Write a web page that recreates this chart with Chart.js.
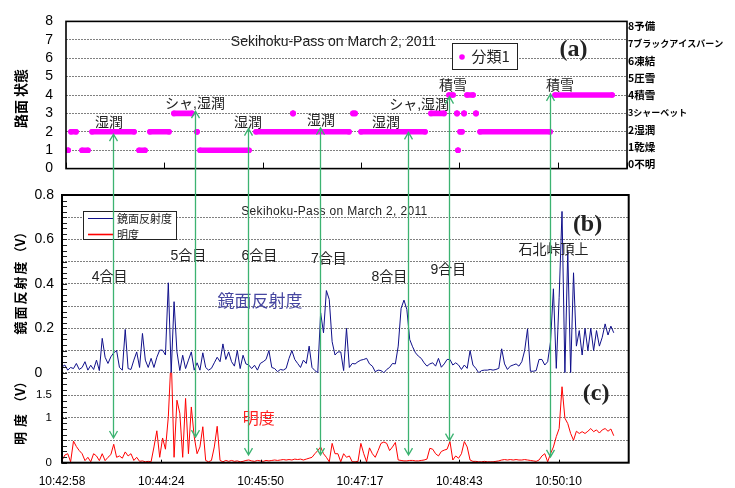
<!DOCTYPE html>
<html>
<head>
<meta charset="utf-8">
<script src="https://cdn.jsdelivr.net/npm/chart.js@4.4.0/dist/chart.umd.min.js"></script>
<style>
  body { margin: 0; background: #fff; }
  #wrap { position: relative; width: 735px; height: 488px; }
  canvas { position: absolute; left: 0; top: 0; }
</style>
</head>
<body>
<div id="wrap">
  <canvas id="roadChart" width="735" height="190"></canvas>
  <canvas id="sensorChart" width="735" height="488"></canvas>
</div>
<script>
// time axis, seconds after 10:42:58
const timeLabels = ['10:42:58', '10:44:24', '10:45:50', '10:47:17', '10:48:43', '10:50:10'];
const tickStep = 86.4;
const timeMax = 493;

// (a) road surface class, runs of equal class (seconds)
const stateFrom  = [1.8, 4.4, 14.1, 22.9, 64.2, 73.8, 94.9, 115.1, 117.8, 167.0, 199.5, 252.2, 259.3, 320.8, 336.6, 343.6, 344.5, 346.3, 349.8, 352.4, 360.3, 363.9, 429.8];
const stateTo    = [1.8, 8.8, 19.3, 59.8, 69.4, 90.5, 110.7, 115.1, 160.8, 248.7, 199.5, 254.0, 315.5, 332.2, 340.1, 343.6, 344.5, 348.0, 349.8, 357.7, 360.3, 425.4, 479.9];
const stateLevel = [1, 2, 1, 2, 1, 2, 3, 2, 1, 2, 3, 3, 2, 3, 4, 3, 1, 2, 3, 4, 3, 2, 4];
const stateNames = ['0不明', '1乾燥', '2湿潤', '3シャーベット', '4積雪', '5圧雪', '6凍結', '7ブラックアイスバーン', '8予備'];
const roadTickLabels = ['0', '1', '2', '3', '4', '5', '6', '7', '8'];

// (b) mirror reflectance and (c) brightness
const seconds = [
  0, 2.5, 5, 7.5, 10, 12.5, 15, 17.5, 20, 22.5,
  25, 27.5, 30, 32.5, 35, 37.5, 40, 42.5, 45, 47.5,
  50, 52.5, 55, 57.5, 60, 62.5, 65, 67.5, 70, 72.5,
  75, 77.5, 80, 82.5, 85, 87.5, 90, 92.5, 95, 97.5,
  100, 102.5, 105, 107.5, 110, 112.5, 115, 117.5, 120, 122.5,
  125, 127.5, 130, 132.5, 135, 137.5, 140, 142.5, 145, 147.5,
  150, 152.5, 155, 157.5, 160, 162.5, 165, 167.5, 170, 172.5,
  175, 177.5, 180, 182.5, 185, 187.5, 190, 192.5, 195, 197.5,
  200, 202.5, 205, 207.5, 210, 212.5, 215, 217.5, 220, 222.5,
  225, 227.5, 230, 232.5, 235, 237.5, 240, 242.5, 245, 247.5,
  250, 252.5, 255, 257.5, 260, 262.5, 265, 267.5, 270, 272.5,
  275, 277.5, 280, 282.5, 285, 287.5, 290, 292.5, 295, 297.5,
  300, 302.5, 305, 307.5, 310, 312.5, 315, 317.5, 320, 322.5,
  325, 327.5, 330, 332.5, 335, 337.5, 340, 342.5, 345, 347.5,
  350, 352.5, 355, 357.5, 360, 362.5, 365, 367.5, 370, 372.5,
  375, 377.5, 380, 382.5, 385, 387.5, 390, 392.5, 395, 397.5,
  400, 402.5, 405, 407.5, 410, 412.5, 415, 417.5, 420, 422.5,
  425, 427.5, 430, 432.5, 435, 437.5, 440, 442.5, 445, 447.5,
  450, 452.5, 455, 457.5, 460, 462.5, 465, 467.5, 470, 472.5,
  475, 477.5, 480
];
const reflectance = [
  0.027, 0.035, 0.012, 0.024, 0.019, 0.042, 0.015, 0.024, 0.05, 0.012,
  0.034, 0.015, 0.057, 0.01, 0.155, 0.07, 0.042, 0.072, 0.09, 0.1,
  0.024, 0.012, 0.195, 0.019, 0.015, 0.057, 0.094, 0.024, 0.177, 0.057,
  0.024, 0.065, 0.024, 0.07, 0.102, 0.102, 0.08, 0.405, 0.0, 0.32,
  0.094, 0.01, 0.079, 0.019, 0.057, 0.094, 0.012, 0.045, 0.012, 0.09,
  0.024, 0.012, 0.02, 0.045, 0.07, 0.05, 0.13, 0.06, 0.094, 0.05,
  0.03, 0.1, 0.019, 0.079, 0.04, 0.035, 0.019, 0.034, 0.012, 0.042,
  0.05, 0.06, 0.1, 0.024, 0.019, 0.005, 0.015, 0.012, 0.02, 0.065,
  0.1, 0.06, 0.042, 0.024, 0.057, 0.042, 0.12, 0.024, 0.01, 0.0,
  0.27, 0.18, 0.37, 0.33, 0.14, 0.08, 0.094, 0.094, 0.01, 0.2,
  0.024, 0.042, 0.04, 0.05, 0.057, 0.06, 0.065, 0.04, 0.03, 0.005,
  0.012, 0.01, 0.0, 0.015, 0.024, 0.042, 0.04, 0.12, 0.29, 0.327,
  0.285, 0.15, 0.117, 0.09, 0.075, 0.065, 0.045, 0.03, 0.04, 0.045,
  0.03, 0.065, 0.025, 0.04, 0.06, 0.06, 0.035, 0.045, 0.035, 0.015,
  0.035, 0.02, 0.1, 0.035, 0.02, 0.0, 0.01, 0.012, 0.012, 0.015,
  0.012, 0.015, 0.02, 0.108, 0.04, 0.015, 0.03, 0.035, 0.04, 0.03,
  0.05, 0.1, 0.198, 0.007, 0.007, 0.01, 0.06, 0.06, 0.035, 0.05,
  0.14, 0.378, 0.02, 0.34, 0.726, 0.0, 0.55, 0.0, 0.45, 0.12,
  0.19, 0.08, 0.2, 0.1, 0.2, 0.1, 0.19, 0.12, 0.16, 0.22,
  0.17, 0.21, 0.18
];
const brightness = [
  0.05, 0.17, 0.2, 0.02, 0.48, 0.36, 0.27, 0.2, 0.046, 0.12,
  0.02, 0.2, 0.15, 0.046, 0.2, 0.046, 0.12, 0.18, 0.41, 0.12,
  0.15, 0.1, 0.24, 0.15, 0.2, 0.05, 0.12, 0.03, 0.04, 0.02,
  0.03, 0.02, 0.35, 0.71, 0.12, 0.55, 0.3, 1.02, 2.39, 0.12,
  1.39, 1.1, 0.12, 1.43, 0.2, 1.24, 0.58, 0.2, 0.35, 0.8,
  0.05, 0.02, 0.05, 0.35, 0.81, 0.05, 0.02, 0.05, 0.03, 0.05,
  0.03, 0.04, 0.02, 0.03, 0.05, 0.06, 0.04, 0.03, 0.05, 0.04,
  0.03, 0.05, 0.04, 0.05, 0.06, 0.05, 0.06, 0.07, 0.06, 0.07,
  0.06, 0.08, 0.07, 0.08, 0.06, 0.08, 0.1, 0.12, 0.2, 0.27,
  0.35, 0.2, 0.12, 0.02, 0.43, 0.2, 0.2, 0.02, 0.2, 0.12,
  0.15, 0.02, 0.02, 0.03, 0.43, 0.2, 0.02, 0.33, 0.2, 0.12,
  0.27, 0.43, 0.46, 0.43, 0.27, 0.35, 0.45, 0.06, 0.05, 0.04,
  0.04, 0.05, 0.05, 0.04, 0.04, 0.05, 0.06, 0.08, 0.32, 0.3,
  0.2, 0.15, 0.25, 0.28, 0.3, 0.47, 0.06, 0.15, 0.1, 0.2,
  0.47, 0.35, 0.06, 0.03, 0.03, 0.02, 0.02, 0.03, 0.02, 0.02,
  0.02, 0.03, 0.04, 0.06, 0.07, 0.06, 0.07, 0.06, 0.07, 0.06,
  0.06, 0.07, 0.06, 0.05, 0.04, 0.03, 0.06, 0.15, 0.2, 0.02,
  0.2, 0.35, 0.58, 0.76, 1.69, 0.99, 0.87, 0.65, 0.5, 0.7,
  0.65, 0.69, 0.65, 0.7, 0.76, 0.69, 0.73, 0.66, 0.73, 0.76,
  0.7, 0.75, 0.6
];
// labels at every 0.2 V (b) and every 0.5 V (c)
const reflTickLabels = ['0   ', '0.2', '0.4', '0.6', '0.8'];
const brightTickLabels = ['0', '', '1', '1.5', ''];

// checkpoints along the road (seconds)
const stations = ['4合目', '5合目', '6合目', '7合目', '8合目', '9合目', '石北峠頂上'];
const arrowTime = [44.2, 116.1, 162.1, 224.2, 300.8, 336.9, 424.2];

// annotation anchors, in axis units
const roadNotes = [
  ['湿潤', 37.8, 2.47], ['シャ,湿潤', 113.4, 3.51], ['湿潤', 160.0, 2.47], ['湿潤', 224.1, 2.57],
  ['湿潤', 281.2, 2.47], ['シャ,湿潤', 310.3, 3.46], ['積雪', 340.1, 4.46], ['積雪', 434.2, 4.46]
];
const stationAt = [[41.5, 0.431], [109.9, 0.526], [171.7, 0.524], [232.1, 0.511], [284.8, 0.431], [336.1, 0.462], [427.5, 0.551]];
const arrowTop = [1.87, 3.12, 2.17, 2.22, 1.97, 3.91, 4.06];
const arrowBottom = [0.55, 0.57, 0.17, 0.17, 0.17, 0.49, 0.13];

const sans = "'Liberation Sans', 'Noto Sans CJK JP', sans-serif";
const jp = "'Noto Sans CJK JP', sans-serif";
Chart.defaults.font.family = sans;
Chart.defaults.color = '#000';

function label(ctx, text, x, y, font, color, align, spacing) {
  ctx.save();
  ctx.font = font;
  ctx.fillStyle = color;
  ctx.textAlign = align || 'center';
  ctx.textBaseline = 'middle';
  if (spacing) ctx.letterSpacing = spacing + 'px';
  ctx.fillText(text, x, y);
  ctx.restore();
}

// rotated axis title, read bottom to top; parts = [[text, letterSpacing], ...]
function vertical(ctx, parts, cx, cy, font, color) {
  ctx.save();
  ctx.translate(cx, cy);
  ctx.rotate(-Math.PI / 2);
  ctx.font = font;
  ctx.fillStyle = color;
  ctx.textBaseline = 'middle';
  ctx.textAlign = 'left';
  const widths = parts.map(p => { ctx.letterSpacing = p[1] + 'px'; return ctx.measureText(p[0]).width; });
  let x = -widths.reduce((a, b) => a + b, 0) / 2;
  parts.forEach((p, i) => {
    ctx.letterSpacing = p[1] + 'px';
    ctx.fillText(p[0], x, 0);
    x += widths[i];
  });
  ctx.restore();
}

function drawFrame(chart, width) {
  const a = chart.chartArea, ctx = chart.ctx;
  ctx.save();
  ctx.strokeStyle = '#000';
  ctx.lineWidth = width;
  ctx.strokeRect(a.left, a.top, a.right - a.left, a.bottom - a.top);
  ctx.restore();
}

function drawInnerTicks(chart, len) {
  const a = chart.chartArea, ctx = chart.ctx, xs = chart.scales.x;
  ctx.save();
  ctx.strokeStyle = '#000';
  ctx.lineWidth = 1;
  xs.ticks.forEach(t => {
    const px = Math.round(xs.getPixelForValue(t.value)) + 0.5;
    ctx.beginPath();
    ctx.moveTo(px, a.bottom);
    ctx.lineTo(px, a.bottom - len);
    ctx.stroke();
  });
  ctx.restore();
}

// short marks inside the left edge for every tick of a y scale
function drawLeftTicks(chart, scale, len) {
  const a = chart.chartArea, ctx = chart.ctx;
  ctx.save();
  ctx.strokeStyle = '#222';
  ctx.lineWidth = 1;
  scale.ticks.forEach(t => {
    const py = Math.round(scale.getPixelForValue(t.value)) + 0.5;
    ctx.beginPath();
    ctx.moveTo(a.left, py);
    ctx.lineTo(a.left + len, py);
    ctx.stroke();
  });
  ctx.restore();
}

const stateData = [];
stateLevel.forEach((lv, i) => {
  stateData.push({x: stateFrom[i], y: lv}, {x: stateTo[i], y: lv}, {x: stateTo[i], y: null});
});

const roadDecor = {
  id: 'roadDecor',
  afterDraw(chart) {
    const ctx = chart.ctx, xs = chart.scales.x, ys = chart.scales.y;
    drawFrame(chart, 1.6);
    drawInnerTicks(chart, 6);
    label(ctx, 'Sekihoku-Pass on March 2, 2011', xs.getPixelForValue(235), ys.getPixelForValue(6.88), '14px ' + sans, '#222');
    label(ctx, '(a)', xs.getPixelForValue(446), ys.getPixelForValue(6.46), 'bold 24px "Liberation Serif", serif', '#222');
    roadNotes.forEach(n => label(ctx, n[0], xs.getPixelForValue(n[1]), ys.getPixelForValue(n[2]), '14px ' + sans, '#222'));
    // legend box
    const ds = chart.data.datasets[0];
    ctx.save();
    ctx.fillStyle = '#fff';
    ctx.fillRect(452, 43, 65, 26);
    ctx.strokeStyle = '#222';
    ctx.lineWidth = 1;
    ctx.strokeRect(452.5, 43.5, 65, 26);
    ctx.fillStyle = ds.backgroundColor;
    ctx.beginPath();
    ctx.arc(462, 57, 2.8, 0, Math.PI * 2);
    ctx.fill();
    ctx.restore();
    label(ctx, ds.label, 471.5, 56.5, '15px ' + jp, '#222', 'left');
    vertical(ctx, [['路面 状態', 0]], 20.5, 98.5, 'bold 14px ' + jp, '#000');
  }
};

const roadChart = new Chart(document.getElementById('roadChart'), {
  type: 'line',
  data: {
    datasets: [{
      label: '分類1',
      data: stateData,
      borderColor: '#ff00ff',
      backgroundColor: '#ff00ff',
      borderWidth: 5.6,
      borderCapStyle: 'round',
      pointRadius: 2.8,
      pointBorderWidth: 0,
      pointHoverRadius: 0
    }]
  },
  options: {
    responsive: false,
    animation: false,
    devicePixelRatio: 1,
    events: [],
    layout: { padding: { top: 14, left: 0, right: 0, bottom: 0 } },
    plugins: { legend: { display: false }, tooltip: { enabled: false } },
    scales: {
      x: {
        type: 'linear', min: 0, max: timeMax, bounds: 'data',
        grid: { display: false, drawTicks: false },
        border: { display: false },
        ticks: { display: false, stepSize: tickStep, includeBounds: false },
        afterFit: s => { s.height = 15.5; }
      },
      y: {
        position: 'left', min: 0, max: 8,
        grid: { color: '#808080', drawTicks: false },
        border: { display: false, dash: [2, 1] },
        ticks: { stepSize: 1, autoSkip: false, padding: 13, font: { size: 14 }, color: '#000', callback: (v, i) => roadTickLabels[i] },
        afterFit: s => { s.width = 66; }
      },
      y2: {
        position: 'right', min: -0.24, max: 8.27,
        grid: { display: false, drawTicks: false },
        border: { display: false },
        ticks: {
          stepSize: 1, includeBounds: false, autoSkip: false, padding: 1, color: '#000',
          font: c => ({ size: (c.index === 3 || c.index === 7) ? 9 : 10.5, weight: 'bold', family: jp }),
          callback: v => stateNames[Math.round(v)]
        },
        afterFit: s => { s.width = 108; }
      }
    }
  },
  plugins: [roadDecor]
});

const sensorDecor = {
  id: 'sensorDecor',
  afterDraw(chart) {
    const ctx = chart.ctx, xs = chart.scales.x, yb = chart.scales.yb, yc = chart.scales.yc;
    drawLeftTicks(chart, yb, 5);
    drawLeftTicks(chart, yc, 5);
    drawFrame(chart, 2);
    drawInnerTicks(chart, 3);
    label(ctx, 'Sekihoku-Pass on March 2, 2011', xs.getPixelForValue(237), yb.getPixelForValue(0.727), '12px ' + sans, '#222', 'center', 0.35);
    label(ctx, '(b)', xs.getPixelForValue(457.2), yb.getPixelForValue(0.664), 'bold 24px "Liberation Serif", serif', '#222');
    label(ctx, '(c)', xs.getPixelForValue(464.6), yc.getPixelForValue(1.53), 'bold 24px "Liberation Serif", serif', '#222');
    stations.forEach((s, i) => label(ctx, s, xs.getPixelForValue(stationAt[i][0]), yb.getPixelForValue(stationAt[i][1]), '14px ' + sans, '#222'));
    label(ctx, '鏡面反射度', xs.getPixelForValue(172.3), yb.getPixelForValue(0.327), '17px ' + jp, '#4646a0');
    label(ctx, '明度', xs.getPixelForValue(171.2), yc.getPixelForValue(0.99), '16px ' + jp, '#ff2020');

    // legend box
    const dss = chart.data.datasets;
    ctx.save();
    ctx.fillStyle = '#fff';
    ctx.fillRect(83, 211, 93, 28);
    ctx.strokeStyle = '#222';
    ctx.lineWidth = 1;
    ctx.strokeRect(83.5, 211.5, 93, 28);
    dss.forEach((d, i) => {
      const ly = 218.5 + i * 16;
      ctx.strokeStyle = d.borderColor;
      ctx.lineWidth = i === 0 ? 1 : 1.6;
      ctx.beginPath();
      ctx.moveTo(88, ly);
      ctx.lineTo(113, ly);
      ctx.stroke();
    });
    ctx.restore();
    dss.forEach((d, i) => label(ctx, d.label, 117, 218.5 + i * 16, '11px ' + jp, '#222', 'left'));

    vertical(ctx, [['鏡面反射度', 2], ['（V）', 0]], 20.5, 280, 'bold 13px ' + jp, '#000');
    vertical(ctx, [['明度', 5], ['（V）', 0]], 20.5, 410, 'bold 13px ' + jp, '#000');

    // green arrows from the road state down to the brightness trace
    const ya = roadChart.scales.y;
    ctx.save();
    ctx.strokeStyle = '#3cb371';
    ctx.lineWidth = 1.3;
    arrowTime.forEach((t, i) => {
      const px = Math.round(xs.getPixelForValue(t)) + 0.5;
      const top = ya.getPixelForValue(arrowTop[i]);
      const bot = yc.getPixelForValue(arrowBottom[i]);
      ctx.beginPath();
      ctx.moveTo(px, top);
      ctx.lineTo(px, bot);
      ctx.moveTo(px - 4, top + 7);
      ctx.lineTo(px, top);
      ctx.lineTo(px + 4, top + 7);
      ctx.moveTo(px - 4, bot - 7);
      ctx.lineTo(px, bot);
      ctx.lineTo(px + 4, bot - 7);
      ctx.stroke();
    });
    ctx.restore();
  }
};

const sensorChart = new Chart(document.getElementById('sensorChart'), {
  type: 'line',
  data: {
    labels: seconds,
    datasets: [
      { label: '鏡面反射度', data: reflectance, yAxisID: 'yb', borderColor: '#10108a', borderWidth: 1, pointRadius: 0, order: 1 },
      { label: '明度', data: brightness, yAxisID: 'yc', borderColor: '#ff0000', borderWidth: 1, pointRadius: 0, order: 0 }
    ]
  },
  options: {
    responsive: false,
    animation: false,
    devicePixelRatio: 1,
    events: [],
    layout: { padding: { top: 195, left: 0, right: 106.3, bottom: 0 } },
    plugins: { legend: { display: false }, tooltip: { enabled: false } },
    scales: {
      x: {
        type: 'linear', min: 0, max: timeMax, bounds: 'data',
        grid: { display: false, drawTicks: false },
        border: { display: false },
        ticks: { stepSize: tickStep, includeBounds: false, autoSkip: false, maxRotation: 0, padding: 12,
          font: { size: 12 }, color: '#000', callback: (v, i) => timeLabels[i] },
        afterFit: s => { s.height = 25.3; }
      },
      yc: {
        position: 'left', stack: 'bc', stackWeight: 90, min: 0, max: 2,
        grid: { color: c => (c.index % 4 === 0 ? '#808080' : 'rgba(0,0,0,0)'), drawTicks: false },
        border: { display: false, dash: [2, 1] },
        ticks: { stepSize: 0.125, maxTicksLimit: 40, autoSkip: false, padding: 10, font: { size: 11.5 }, color: '#000',
          callback: (v, i) => (i % 4 === 0 ? brightTickLabels[i / 4] : '') },
        afterFit: s => { s.width = 62; }
      },
      yb: {
        position: 'left', stack: 'bc', stackWeight: 178, min: 0, max: 0.8,
        grid: { color: c => (c.index % 4 === 0 ? '#808080' : 'rgba(0,0,0,0)'), drawTicks: false },
        border: { display: false, dash: [2, 1] },
        ticks: { stepSize: 0.025, maxTicksLimit: 40, autoSkip: false, padding: 8, font: { size: 14 }, color: '#000',
          callback: (v, i) => (i % 8 === 0 ? reflTickLabels[i / 8] : '') },
        afterFit: s => { s.width = 62; }
      }
    }
  },
  plugins: [sensorDecor]
});
</script>
</body>
</html>
